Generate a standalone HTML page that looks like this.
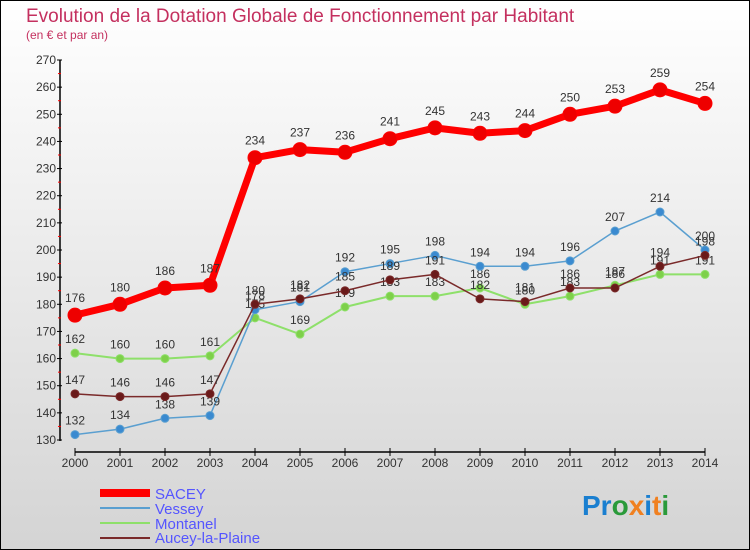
<!DOCTYPE html>
<html><head><meta charset="utf-8"><style>
body{margin:0;width:750px;height:550px;overflow:hidden}
svg{display:block;font-family:"Liberation Sans","DejaVu Sans",sans-serif}
</style></head><body>
<svg id="c" width="750" height="550" xmlns="http://www.w3.org/2000/svg">
<defs><linearGradient id="bg" x1="0" y1="0" x2="0" y2="1"><stop offset="0" stop-color="#ffffff"/><stop offset="1" stop-color="#d4d4d4"/></linearGradient></defs>
<rect x="0.5" y="0.5" width="749" height="549" fill="url(#bg)" stroke="#000"/>
<text x="26" y="22" font-size="19" fill="#c4305f">Evolution de la Dotation Globale de Fonctionnement par Habitant</text>
<text x="26" y="39" font-size="12" fill="#c4305f">(en € et par an)</text>
<g id="axes"></g><g id="series"></g>
<g>
<line x1="100" y1="493" x2="150" y2="493" stroke="#f00" stroke-width="8"/>
<text x="155" y="499" font-size="15" fill="#5555ff">SACEY</text>
<line x1="100" y1="508" x2="150" y2="508" stroke="#5a9fd0" stroke-width="2"/>
<text x="155" y="514" font-size="15" fill="#5555ff">Vessey</text>
<line x1="100" y1="523" x2="150" y2="523" stroke="#8ee06a" stroke-width="2"/>
<text x="155" y="529" font-size="15" fill="#5555ff">Montanel</text>
<line x1="100" y1="538" x2="150" y2="538" stroke="#7a2a2a" stroke-width="2"/>
<text x="155" y="543" font-size="15" fill="#5555ff">Aucey-la-Plaine</text>
</g>
<g font-size="28" font-weight="bold">
<text x="582" y="515"><tspan fill="#1a7fd0">Pr</tspan><tspan fill="#2a9a3a">o</tspan><tspan fill="#f08020">x</tspan><tspan fill="#1a7fd0">i</tspan><tspan fill="#f08020">t</tspan><tspan fill="#2a9a3a">i</tspan></text>
</g>
</svg>
<script>
const years=[2000,2001,2002,2003,2004,2005,2006,2007,2008,2009,2010,2011,2012,2013,2014];
const yTicks=[130,140,150,160,170,180,190,200,210,220,230,240,250,260,270];
const sacey=[176,180,186,187,234,237,236,241,245,243,244,250,253,259,254];
const vessey=[132,134,138,139,178,181,192,195,198,194,194,196,207,214,200];
const montanel=[162,160,160,161,175,169,179,183,183,186,180,183,187,191,191];
const aucey=[147,146,146,147,180,182,185,189,191,182,181,186,186,194,198];
const NS="http://www.w3.org/2000/svg";
const X=i=>75+i*45, Y=v=>440-(v-130)*380/140;
function mk(t,a,p){const e=document.createElementNS(NS,t);for(const k in a)e.setAttribute(k,a[k]);p.appendChild(e);return e;}
const ax=document.getElementById('axes');
let l=mk('line',{x1:60,y1:60,x2:60,y2:441,stroke:'#000','stroke-width':1.5},ax);


l=mk('line',{x1:75,y1:452,x2:705,y2:452,stroke:'#000','stroke-width':1.5},ax);


yTicks.forEach((v,i)=>{
  mk('line',{x1:57,y1:Y(v),x2:62,y2:Y(v),stroke:'#000'},ax);
  if(i<yTicks.length-1)mk('line',{x1:58,y1:Y(v+5),x2:61,y2:Y(v+5),stroke:'#f00'},ax);
  const t=mk('text',{x:56,y:Y(v)+4,'text-anchor':'end','font-size':12,fill:'#333'},ax);
  t.textContent=v;
  
  
});
years.forEach((y,i)=>{
  mk('line',{x1:X(i),y1:448,x2:X(i),y2:456,stroke:'#000'},ax);
  const t=mk('text',{x:X(i),y:467,'text-anchor':'middle','font-size':12,fill:'#333'},ax);
  t.textContent=y;
  
  
});
const sg=document.getElementById('series');
function draw(vals,name,color,w,r,dot){
  const g=mk('g',{},sg);
  
  
  const p=mk('polyline',{points:vals.map((v,i)=>X(i)+','+Y(v)).join(' '),fill:'none',stroke:color,'stroke-width':w,'stroke-linejoin':'round'},g);
  
  
  vals.forEach((v,i)=>{
    const c=mk('circle',{cx:X(i),cy:Y(v),r:r,fill:dot,stroke:color,'stroke-width':1},g);
    
    
    const t=mk('text',{x:X(i),y:Y(v)-r-6,'text-anchor':'middle','font-size':12,fill:'#333'},g);
    t.textContent=v;
    
    
  });
}
draw(montanel,'montanel','#8ee06a',2,4,'#7ed04a');
draw(vessey,'vessey','#5a9fd0',1.5,4,'#3a8ad0');
draw(aucey,'aucey','#7a2a2a',1.5,4,'#6a1a1a');
draw(sacey,'sacey','#ff0000',7,7,'#ee0000');
</script>
</body></html>
